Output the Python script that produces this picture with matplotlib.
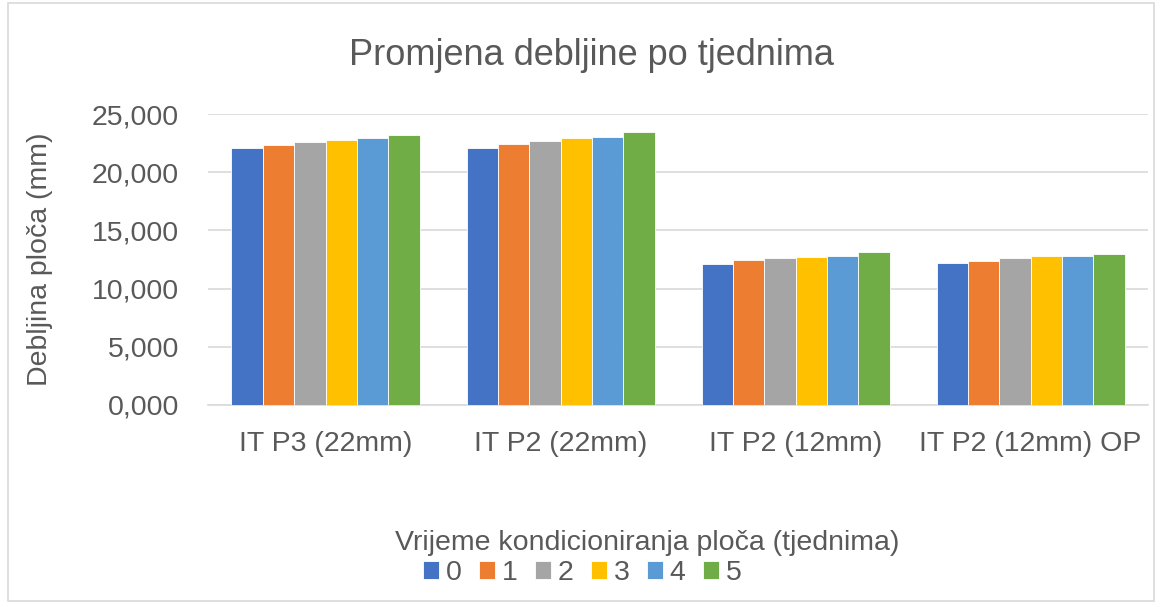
import numpy as np
import matplotlib.pyplot as plt
from matplotlib.patches import Rectangle

# data (debljina u mm)
groups = ["IT P3 (22mm)", "IT P2 (22mm)", "IT P2 (12mm)", "IT P2 (12mm) OP"]
weeks = ["0", "1", "2", "3", "4", "5"]
week0 = [22.09, 22.06, 12.09, 12.17]
week1 = [22.38, 22.46, 12.43, 12.35]
week2 = [22.57, 22.66, 12.60, 12.66]
week3 = [22.80, 22.92, 12.69, 12.77]
week4 = [22.92, 23.06, 12.77, 12.77]
week5 = [23.21, 23.43, 13.18, 12.95]
series = [week0, week1, week2, week3, week4, week5]
colors = ["#4472C4", "#ED7D31", "#A5A5A5", "#FFC000", "#5B9BD5", "#70AD47"]

txt = "#595959"
fs = 20.5
plt.rcParams['font.family'] = ['Liberation Sans', 'DejaVu Sans']

fig = plt.figure(figsize=(11.62, 6.07), dpi=100)
ax = fig.add_axes([0.179, 0.333, 0.809, 0.479])

x = np.arange(len(groups))
bw = 1.0 / (6 + 1.5)
for i, vals in enumerate(series):
    ax.bar(x - 3 * bw + bw / 2 + i * bw, vals, width=bw, color=colors[i],
           edgecolor="white", linewidth=0.6, label=weeks[i], zorder=3)

ax.set_xlim(-0.5, len(groups) - 0.5)
ax.set_ylim(0, 25)
yt = np.arange(0, 26, 5)
ax.set_yticks(yt)
ax.set_yticklabels([("%.3f" % v).replace(".", ",") for v in yt], fontsize=fs, color=txt)
ax.set_xticks(x)
ax.set_xticklabels(groups, fontsize=fs, color=txt)
ax.tick_params(axis="both", length=0)
ax.tick_params(axis="y", pad=21)
ax.tick_params(axis="x", pad=19)
ax.grid(axis="y", color="#D9D9D9", linewidth=1.2, zorder=0)
for s in ["top", "right", "left"]:
    ax.spines[s].set_visible(False)
ax.spines["bottom"].set_color("#D9D9D9")
ax.spines["bottom"].set_linewidth(1.2)

ax.set_ylabel("Debljina ploča (mm)", fontsize=fs, color=txt)
ax.yaxis.set_label_coords(-0.165, 0.5)
fig.text(0.509, 0.909, "Promjena debljine po tjednima", fontsize=26, color=txt,
         ha="center", va="center")

fig.text(0.557, 1 - 543 / 607, "Vrijeme kondicioniranja ploča (tjednima)", fontsize=fs,
         color=txt, ha="center", va="center")
leg = fig.legend(loc="center", bbox_to_anchor=(0.501, 1 - 573 / 607), ncol=6,
                 frameon=False, fontsize=fs, handlelength=0.56, handleheight=0.56,
                 handletextpad=0.25, columnspacing=0.6, borderaxespad=0, borderpad=0)
for t in leg.get_texts():
    t.set_color(txt)

fig.patches.append(Rectangle((0.007, 0.01), 0.986, 0.985, transform=fig.transFigure,
                             fill=False, edgecolor="#D9D9D9", linewidth=1.2))

fig.savefig("out.png", dpi=100)
